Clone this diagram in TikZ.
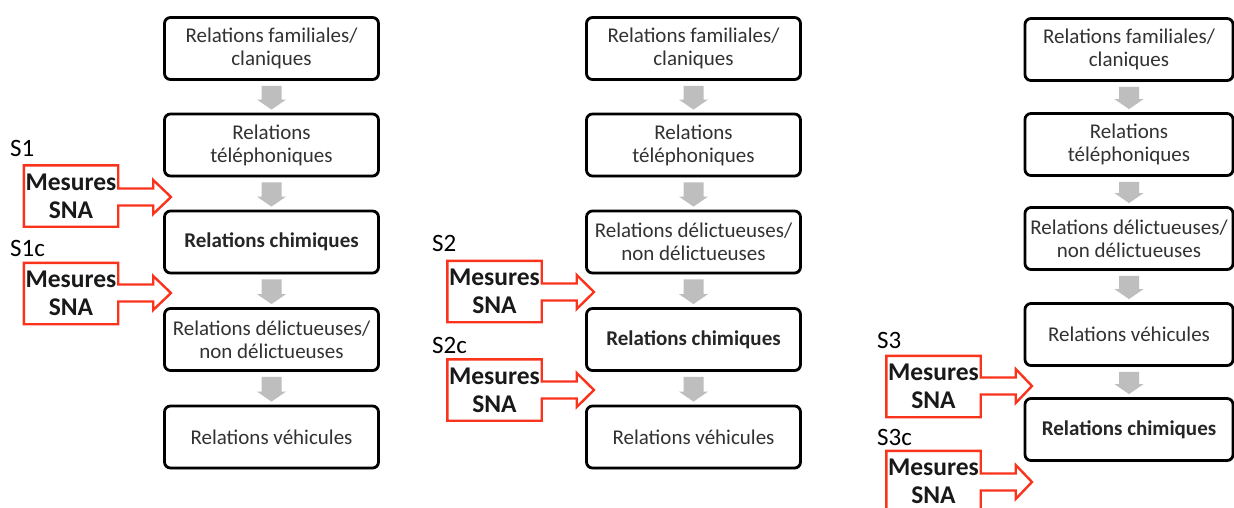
\documentclass[tikz,border=0pt]{standalone}
\usepackage{fontspec}
\setmainfont{Carlito}
\usetikzlibrary{calc,shadows}
\definecolor{snared}{RGB}{250,52,28}
\definecolor{arrgray}{RGB}{190,190,190}
\definecolor{txtgray}{RGB}{50,50,50}
\tikzset{
  relbox/.style={draw=black, line width=2.8pt, rounded corners=6pt, fill=white,
    minimum width=214pt, minimum height=62pt, align=center, text=txtgray,
    font=\fontsize{21}{23}\selectfont, inner sep=0pt,
    drop shadow={shadow xshift=1pt, shadow yshift=-1.5pt, opacity=0.3}},
  relbold/.style={relbox, font=\bfseries\fontsize{21}{23}\selectfont, text=black!85},
  snabox/.style={align=center, inner sep=0pt, minimum width=94pt, minimum height=61pt,
    font=\bfseries\fontsize{25.5}{28}\selectfont, text=black!90},
  redline/.style={draw=snared, line width=2.4pt, line join=miter},
  slabel/.style={anchor=base west, inner sep=0pt, font=\fontsize{25}{28}\selectfont},
  grayarr/.style={fill=arrgray, draw=none}
}
\newcommand\snaarrow[2]{%
  \draw[redline] let \p1=(#1.north east), \p2=(#1.south west), \p3=(#2) in
    (\x2,\y1) -- (\x1,\y1) -- (\x1,\y3+8.5pt) -- (\x1+35pt,\y3+8.5pt) -- (\x1+35pt,\y3+17pt)
    -- (\p3) -- (\x1+35pt,\y3-17pt) -- (\x1+35pt,\y3-8.5pt) -- (\x1,\y3-8.5pt)
    -- (\x1,\y2) -- (\x2,\y2) -- cycle;}
\newcommand\grayarrow[2]{%
  \fill[grayarr] let \p1=(#1.south), \p2=(#2.north) in
    (\x1-10pt,\y1-5pt) -- (\x1+10pt,\y1-5pt) -- (\x1+10pt,\y2+13pt) -- (\x1+14.5pt,\y2+13pt)
    -- (\x1,\y2+3pt) -- (\x1-14.5pt,\y2+13pt) -- (\x1-10pt,\y2+13pt) -- cycle;}
\begin{document}
\begin{tikzpicture}[x=1pt,y=-1pt]
\clip (0,0) rectangle (1234,507);
\fill[white] (0,0) rectangle (1234,507);
% column 1
\node[relbox] (a1) at (271.5,48.5) {Relations familiales/\\claniques};
\node[relbox] (a2) at (271.5,145) {Relations\\téléphoniques};
\node[relbold] (a3) at (271.5,242) {Relations chimiques};
\node[relbox] (a4) at (271.5,339.5) {Relations délictueuses/\\non délictueuses};
\node[relbox] (a5) at (271.5,437) {Relations véhicules};
\grayarrow{a1}{a2}\grayarrow{a2}{a3}\grayarrow{a3}{a4}\grayarrow{a4}{a5}
% column 2
\node[relbox] (b1) at (693.5,48.5) {Relations familiales/\\claniques};
\node[relbox] (b2) at (693.5,145) {Relations\\téléphoniques};
\node[relbox] (b3) at (693.5,242) {Relations délictueuses/\\non délictueuses};
\node[relbold] (b4) at (693.5,339.5) {Relations chimiques};
\node[relbox] (b5) at (693.5,437) {Relations véhicules};
\grayarrow{b1}{b2}\grayarrow{b2}{b3}\grayarrow{b3}{b4}\grayarrow{b4}{b5}
% column 3
\node[relbox, minimum width=208pt] (c1) at (1129,49.5) {Relations familiales/\\claniques};
\node[relbox, minimum width=208pt] (c2) at (1129,144.5) {Relations\\téléphoniques};
\node[relbox, minimum width=208pt] (c3) at (1129,238.5) {Relations délictueuses/\\non délictueuses};
\node[relbox, minimum width=208pt] (c4) at (1129,334.5) {Relations véhicules};
\node[relbold, minimum width=208pt] (c5) at (1129,429.5) {Relations chimiques};
\grayarrow{c1}{c2}\grayarrow{c2}{c3}\grayarrow{c3}{c4}\grayarrow{c4}{c5}
% SNA callouts
\node[slabel] (l1) at (10,156) {S1};
\node[snabox] (m1) at (71,196) {Mesures\\SNA};
\coordinate (t1) at (171,197);
\snaarrow{m1}{t1}
\node[slabel] (l1c) at (10,256) {S1c};
\node[snabox] (m1c) at (71,293.5) {Mesures\\SNA};
\coordinate (t1c) at (171,293);
\snaarrow{m1c}{t1c}
\node[slabel] (l2) at (432,251) {S2};
\node[snabox] (m2) at (494.5,291.5) {Mesures\\SNA};
\coordinate (t2) at (594,292);
\snaarrow{m2}{t2}
\node[slabel] (l2c) at (432,353) {S2c};
\node[snabox] (m2c) at (494.5,390) {Mesures\\SNA};
\coordinate (t2c) at (594,390);
\snaarrow{m2c}{t2c}
\node[slabel] (l3) at (877,348) {S3};
\node[snabox] (m3) at (933.5,386.5) {Mesures\\SNA};
\coordinate (t3) at (1032,386);
\snaarrow{m3}{t3}
\node[slabel] (l3c) at (877,445) {S3c};
\node[snabox] (m3c) at (933.5,481.5) {Mesures\\SNA};
\coordinate (t3c) at (1032,482);
\snaarrow{m3c}{t3c}
\end{tikzpicture}
\end{document}
